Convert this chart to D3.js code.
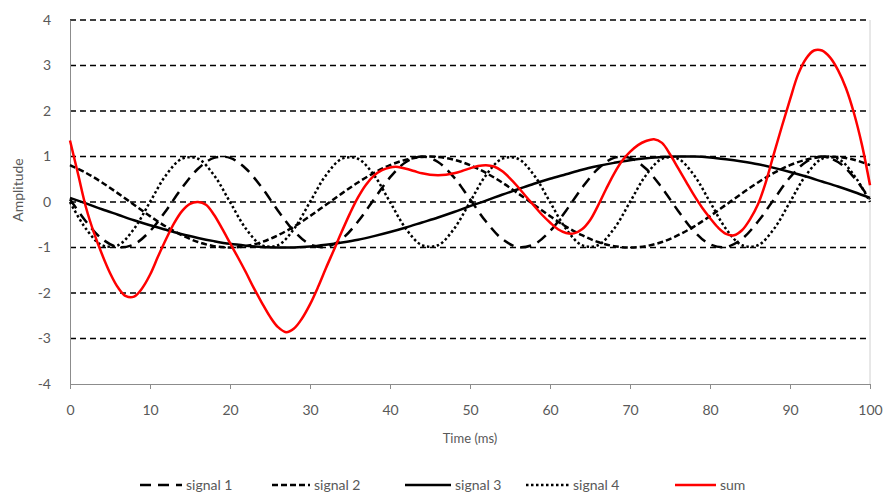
<!DOCTYPE html>
<html lang="en">
<head>
	<meta charset="UTF-8">
	<title>Signals and sum</title>
	<script src="https://cdn.jsdelivr.net/npm/d3@7"></script>
	<style>
		body { margin: 0; background: #fff; }
		text { font-family: Lato, "Open Sans", sans-serif; fill: #595959; }
	</style>
</head>
<body>
<script>
	// time axis of the four signals (ms), sampled every 2 ms
	var tSig = [0, 2, 4, 6, 8, 10, 12, 14, 16, 18, 20, 22, 24, 26, 28, 30, 32, 34, 36, 38, 40, 42, 44, 46, 48,
		50, 52, 54, 56, 58, 60, 62, 64, 66, 68, 70, 72, 74, 76, 78, 80, 82, 84, 86, 88, 90, 92, 94, 96, 98, 100];

	var signal1 = [0.06, -0.43, -0.81, -0.99, -0.93, -0.64, -0.19, 0.31, 0.73, 0.97, 0.97, 0.73, 0.31, -0.19, -0.64, -0.93, -0.99, -0.81, -0.43, 0.06, 0.54, 0.88, 1.0, 0.88, 0.54,
		0.06, -0.43, -0.81, -0.99, -0.93, -0.64, -0.19, 0.31, 0.73, 0.97, 0.97, 0.73, 0.31, -0.19, -0.64, -0.93, -0.99, -0.81, -0.43, 0.06, 0.54, 0.88, 1.0, 0.88, 0.54, 0.06];

	var signal2 = [0.81, 0.64, 0.43, 0.19, -0.06, -0.31, -0.54, -0.73, -0.88, -0.97, -1.0, -0.97, -0.88, -0.73, -0.54, -0.31, -0.06, 0.19, 0.43, 0.64, 0.81, 0.93, 0.99, 0.99, 0.93,
		0.81, 0.64, 0.43, 0.19, -0.06, -0.31, -0.54, -0.73, -0.88, -0.97, -1.0, -0.97, -0.88, -0.73, -0.54, -0.31, -0.06, 0.19, 0.43, 0.64, 0.81, 0.93, 0.99, 0.99, 0.93, 0.81];

	var signal3 = [0.09, -0.03, -0.16, -0.28, -0.4, -0.51, -0.61, -0.71, -0.79, -0.86, -0.92, -0.96, -0.99, -1.0, -1.0, -0.98, -0.94, -0.89, -0.83, -0.75, -0.66, -0.56, -0.45, -0.34, -0.22,
		-0.09, 0.03, 0.16, 0.28, 0.4, 0.51, 0.61, 0.71, 0.79, 0.86, 0.92, 0.96, 0.99, 1.0, 1.0, 0.98, 0.94, 0.89, 0.83, 0.75, 0.66, 0.56, 0.45, 0.34, 0.22, 0.09];

	var signal4 = [0, -0.59, -0.95, -0.95, -0.59, 0, 0.59, 0.95, 0.95, 0.59, 0, -0.59, -0.95, -0.95, -0.59, 0, 0.59, 0.95, 0.95, 0.59, 0, -0.59, -0.95, -0.95, -0.59,
		0, 0.59, 0.95, 0.95, 0.59, 0, -0.59, -0.95, -0.95, -0.59, 0, 0.59, 0.95, 0.95, 0.59, 0, -0.59, -0.95, -0.95, -0.59, 0, 0.59, 0.95, 0.95, 0.59, 0];

	// sum, read every 1 ms
	var tSum = d3.range(0, 101);
	var sum = [1.35, 0.62, -0.12, -0.68, -1.15, -1.56, -1.88, -2.07, -2.08, -1.9,
		-1.6, -1.2, -0.82, -0.47, -0.2, -0.04, 0.0, -0.06, -0.28, -0.58,
		-0.9, -1.22, -1.55, -1.9, -2.22, -2.52, -2.75, -2.86, -2.78, -2.56,
		-2.25, -1.87, -1.45, -1.05, -0.64, -0.25, 0.1, 0.38, 0.58, 0.7,
		0.76, 0.77, 0.73, 0.68, 0.63, 0.6, 0.59, 0.6, 0.63, 0.68,
		0.74, 0.79, 0.81, 0.78, 0.68, 0.52, 0.33, 0.12, -0.08, -0.28,
		-0.45, -0.6, -0.68, -0.69, -0.6, -0.4, -0.08, 0.28, 0.62, 0.9,
		1.1, 1.25, 1.34, 1.38, 1.3, 1.05, 0.75, 0.45, 0.15, -0.12,
		-0.35, -0.56, -0.7, -0.73, -0.62, -0.38, -0.05, 0.45, 1.07, 1.67,
		2.25, 2.8, 3.15, 3.33, 3.33, 3.18, 2.9, 2.5, 1.95, 1.25, 0.37];

	var xTicks = [0, 10, 20, 30, 40, 50, 60, 70, 80, 90, 100];
	var yTicks = [-4, -3, -2, -1, 0, 1, 2, 3, 4];
	var names = ['signal 1', 'signal 2', 'signal 3', 'signal 4', 'sum'];

	(function () {
		var series = [
			{name: names[0], t: tSig, v: signal1, color: '#000', dash: '11,7'},
			{name: names[1], t: tSig, v: signal2, color: '#000', dash: '6,3'},
			{name: names[2], t: tSig, v: signal3, color: '#000', dash: null},
			{name: names[3], t: tSig, v: signal4, color: '#000', dash: '2.5,2.5'},
			{name: names[4], t: tSum, v: sum, color: '#ff0000', dash: null}
		];

		var W = 886, H = 495;
		var margin = {left: 70, right: 870, top: 20, bottom: 384};

		var svg = d3.select('body').append('svg')
			.attr('width', W)
			.attr('height', H);

		var x = d3.scaleLinear().domain([0, 100]).range([margin.left, margin.right]);
		var y = d3.scaleLinear().domain([-4, 4]).range([margin.bottom, margin.top]);

		// dashed horizontal gridlines
		svg.append('g')
			.selectAll('line')
			.data(yTicks.filter(function (d) { return d > -4; }))
			.enter().append('line')
			.attr('x1', margin.left).attr('x2', margin.right)
			.attr('y1', function (d) { return y(d); })
			.attr('y2', function (d) { return y(d); })
			.attr('stroke', '#000')
			.attr('stroke-width', 1.3)
			.attr('stroke-dasharray', '6,4');

		// right border
		svg.append('line')
			.attr('x1', margin.right).attr('x2', margin.right)
			.attr('y1', margin.top).attr('y2', margin.bottom)
			.attr('stroke', '#d0d0d0');

		// y axis (plain hyphen for negatives)
		var yAxis = svg.append('g')
			.attr('transform', 'translate(' + margin.left + ',0)')
			.call(d3.axisLeft(y).tickValues(yTicks).tickSize(0).tickPadding(19)
				.tickFormat(function (d) { return String(d); }));
		yAxis.select('.domain').attr('stroke', '#8c8c8c');
		yAxis.selectAll('text').style('font-size', '14px').attr('fill', '#595959');

		// x axis
		var xAxis = svg.append('g')
			.attr('transform', 'translate(0,' + margin.bottom + ')')
			.call(d3.axisBottom(x).tickValues(xTicks).tickSizeOuter(0).tickSize(5).tickPadding(16));
		xAxis.select('.domain').attr('stroke', '#8c8c8c');
		xAxis.selectAll('.tick line').attr('stroke', '#8c8c8c');
		xAxis.selectAll('text').style('font-size', '14px').attr('fill', '#595959');

		// axis titles
		svg.append('text')
			.attr('x', (margin.left + margin.right) / 2)
			.attr('y', 443)
			.attr('text-anchor', 'middle')
			.style('font-size', '13px')
			.text('Time (ms)');

		svg.append('text')
			.attr('transform', 'translate(23,190) rotate(-90)')
			.attr('text-anchor', 'middle')
			.style('font-size', '14px')
			.text('Amplitude');

		// the lines
		var line = d3.line()
			.curve(d3.curveCatmullRom.alpha(0.5));

		svg.append('g')
			.selectAll('path')
			.data(series)
			.enter().append('path')
			.attr('d', function (s) {
				return line(s.t.map(function (t, i) { return [x(t), y(s.v[i])]; }));
			})
			.attr('fill', 'none')
			.attr('stroke', function (s) { return s.color; })
			.attr('stroke-width', 2.5)
			.attr('stroke-dasharray', function (s) { return s.dash; });

		// legend
		var legendPos = [[140, 186], [272, 314], [405, 455], [526, 573], [675, 720]];
		var legend = svg.append('g')
			.selectAll('g')
			.data(series)
			.enter().append('g');
		legend.append('line')
			.attr('x1', function (s, i) { return legendPos[i][0]; })
			.attr('x2', function (s, i) { return legendPos[i][1] - 4; })
			.attr('y1', 485).attr('y2', 485)
			.attr('stroke', function (s) { return s.color; })
			.attr('stroke-width', 2.5)
			.attr('stroke-dasharray', function (s) { return s.dash; });
		legend.append('text')
			.attr('x', function (s, i) { return legendPos[i][1]; })
			.attr('y', 490)
			.style('font-size', '14px')
			.text(function (s) { return s.name; });
	})();
</script>
</body>
</html>
